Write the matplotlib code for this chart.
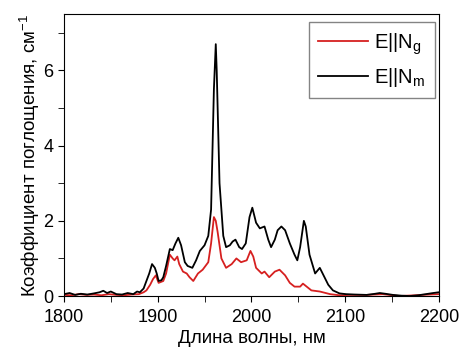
import numpy as np
import matplotlib
matplotlib.use("Agg")
import matplotlib.pyplot as plt
from matplotlib.ticker import MultipleLocator

plt.rcParams['font.family'] = ['Liberation Sans', 'DejaVu Sans']
plt.rcParams['mathtext.fontset'] = 'custom'
plt.rcParams['mathtext.rm'] = 'Liberation Sans'
plt.rcParams['mathtext.it'] = 'Liberation Sans'

# black curve: E||Nm
wl_m = [1800, 1806, 1812, 1818, 1825, 1832, 1838, 1842, 1846, 1850, 1856, 1862, 1868, 1874,
        1878, 1881, 1885, 1888, 1891, 1894, 1897, 1899, 1901, 1904, 1906, 1909, 1913, 1916,
        1919, 1922, 1925, 1929, 1932, 1937, 1941, 1945, 1950, 1954, 1957, 1960, 1962, 1963,
        1966, 1970, 1973, 1977, 1980, 1983, 1987, 1990, 1994, 1998, 2001, 2005, 2009, 2014,
        2018, 2021, 2025, 2028, 2032, 2036, 2041, 2046, 2049, 2052, 2056, 2058, 2062, 2068,
        2073, 2076, 2082, 2087, 2094, 2101, 2110, 2123, 2132, 2137, 2143, 2151, 2160, 2169,
        2178, 2186, 2194, 2200]
ab_m = [0.05, 0.08, 0.03, 0.06, 0.04, 0.07, 0.1, 0.14, 0.08, 0.12, 0.05, 0.04, 0.08, 0.05,
        0.12, 0.1, 0.2, 0.4, 0.6, 0.85, 0.75, 0.6, 0.4, 0.42, 0.5, 0.8, 1.25, 1.22,
        1.4, 1.55, 1.35, 0.9, 0.8, 0.75, 0.95, 1.2, 1.35, 1.6, 2.3, 5.5, 6.7, 6.0,
        3.0, 1.6, 1.3, 1.35, 1.45, 1.5, 1.3, 1.25, 1.4, 2.1, 2.35, 1.95, 1.8, 1.85,
        1.5, 1.3, 1.5, 1.75, 1.85, 1.75, 1.4, 1.1, 0.95, 1.3, 2.0, 1.85, 1.1, 0.6,
        0.75, 0.6, 0.3, 0.15, 0.07, 0.05, 0.04, 0.03, 0.06, 0.08, 0.06, 0.03, 0.01, 0.0,
        0.02, 0.05, 0.08, 0.1]

# red curve: E||Ng
wl_g = [1800, 1808, 1816, 1824, 1832, 1840, 1848, 1856, 1864, 1872, 1880, 1885, 1888, 1892,
        1895, 1898, 1901, 1904, 1906, 1909, 1913, 1916, 1918, 1921, 1923, 1927, 1931, 1934,
        1938, 1943, 1948, 1954, 1957, 1960, 1962, 1964, 1968, 1973, 1979, 1984, 1989, 1995,
        1999, 2002, 2005, 2011, 2014, 2019, 2025, 2030, 2036, 2041, 2046, 2052, 2055, 2059,
        2064, 2073, 2084, 2094, 2105, 2123, 2140, 2158, 2175, 2190, 2200]
ab_g = [0.03, 0.02, 0.05, 0.03, 0.04, 0.02, 0.05, 0.03, 0.02, 0.04, 0.05, 0.1, 0.15, 0.3,
        0.45, 0.55, 0.35, 0.38, 0.4, 0.6, 1.1, 1.0, 0.95, 1.05, 0.85, 0.65, 0.6, 0.5,
        0.4, 0.6, 0.7, 0.9, 1.4, 2.1, 2.0, 1.7, 1.0, 0.75, 0.85, 1.0, 0.9, 0.95,
        1.2, 1.05, 0.75, 0.6, 0.65, 0.5, 0.65, 0.7, 0.55, 0.35, 0.25, 0.25, 0.33, 0.25,
        0.15, 0.12, 0.05, 0.02, 0.03, 0.03, 0.05, 0.0, 0.02, 0.04, 0.05]

fig = plt.figure(figsize=(4.6, 3.52), dpi=100)
ax = fig.add_axes([0.139, 0.159, 0.815, 0.801])

ax.plot(wl_g, ab_g, color='#d62020', lw=1.3, label=r'E||N$_\mathrm{g}$')
ax.plot(wl_m, ab_m, color='black', lw=1.3, label=r'E||N$_\mathrm{m}$')

ax.set_xlim(1800, 2200)
ax.set_ylim(0, 7.5)
ax.xaxis.set_major_locator(MultipleLocator(100))
ax.xaxis.set_minor_locator(MultipleLocator(50))
ax.yaxis.set_major_locator(MultipleLocator(2))
ax.yaxis.set_minor_locator(MultipleLocator(1))
ax.tick_params(which='both', direction='out', labelsize=13, length=4)
ax.tick_params(axis='x', pad=5)

ax.set_xlabel('Длина волны, нм', fontsize=13.5, labelpad=3)
ax.set_ylabel('Коэффициент поглощения, см$^{-1}$', fontsize=13.5, labelpad=1)

leg = ax.legend(loc='upper right', bbox_to_anchor=(0.989, 0.972), borderaxespad=0,
                fontsize=14.5, fancybox=False, edgecolor='#666666',
                handlelength=2.5, labelspacing=0.45, handletextpad=0.3,
                borderpad=0.45)
leg.get_frame().set_linewidth(1.0)

fig.savefig('out.png', dpi=100)
